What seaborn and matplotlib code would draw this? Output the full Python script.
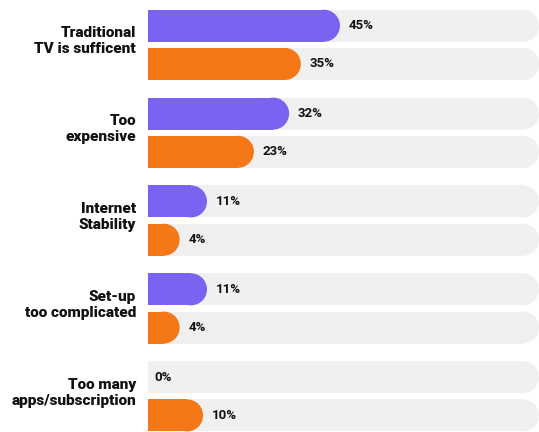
import matplotlib
matplotlib.use("Agg")
import matplotlib.pyplot as plt
from matplotlib.patches import Ellipse, Rectangle
import seaborn as sns
import pandas as pd

# data
categories = [
    "Traditional\nTV is sufficent",
    "Too\nexpensive",
    "Internet\nStability",
    "Set-up\ntoo complicated",
    "Too many\napps/subscription",
]
series_names = ["Series A", "Series B"]
share_a = [45, 32, 11, 11, 0]
share_b = [35, 23, 4, 4, 10]
track_max = 100

purple = "#7C62F1"
orange = "#F57716"
track_col = "#F0F0F0"

sns.set_style("white")
plt.rcParams["font.family"] = ["Roboto", "DejaVu Sans"]

df = pd.DataFrame({
    "category": categories * 2,
    "series": [series_names[0]] * len(categories) + [series_names[1]] * len(categories),
    "share": share_a + share_b,
})

fig = plt.figure(figsize=(5.39, 4.32), dpi=100)
ax = fig.add_axes([148 / 539, 0, 1 - 148 / 539, 1])

sns.barplot(data=df, x="share", y="category", hue="series", orient="h",
            palette=[purple, orange], width=0.87, gap=0.163, legend=False,
            linewidth=0, saturation=1, errorbar=None, ax=ax, zorder=3)

ax.set_xlim(0, track_max)
ax.set_ylim(4.406, -0.51)

# radius of the round caps, in data units along x
ax_w_px = fig.get_figwidth() * fig.dpi * (1 - 148 / 539)
r_px = 16
r_data = r_px * track_max / ax_w_px

bars = [p for p in ax.patches if isinstance(p, Rectangle)]
for p in bars:
    y0, h = p.get_y(), p.get_height()
    yc = y0 + h / 2
    # grey track behind each bar
    ax.add_patch(Rectangle((0, y0), track_max - r_data, h, facecolor=track_col,
                           linewidth=0, zorder=1))
    ax.add_patch(Ellipse((track_max - r_data, yc), 2 * r_data, h,
                         facecolor=track_col, linewidth=0, zorder=1))
    w = p.get_width()
    if w > 0:
        ax.add_patch(Ellipse((w, yc), 2 * r_data, h, facecolor=p.get_facecolor(),
                             linewidth=0, zorder=3))
        end = w + r_data
        off = 9 * 0.72
    else:
        end = 0
        off = 6 * 0.72
    ax.annotate(f"{w:.0f}%", xy=(end, yc), xytext=(off, 0), textcoords="offset points",
                ha="left", va="center", fontsize=9.5, fontweight="bold",
                color="#111111", zorder=4)

for i, cat in enumerate(categories):
    ax.annotate(cat, xy=(0, i), xycoords=("axes fraction", "data"),
                xytext=(-12 * 0.72, 3.5 * 0.72), textcoords="offset points",
                ha="right", va="center", fontsize=11, fontweight=900,
                color="#111111", linespacing=1.15, multialignment="right")

ax.set_xticks([])
ax.set_yticks([])
ax.set_xlabel("")
ax.set_ylabel("")
sns.despine(ax=ax, left=True, bottom=True)

fig.savefig("out.png", dpi=100)
plt.close(fig)
